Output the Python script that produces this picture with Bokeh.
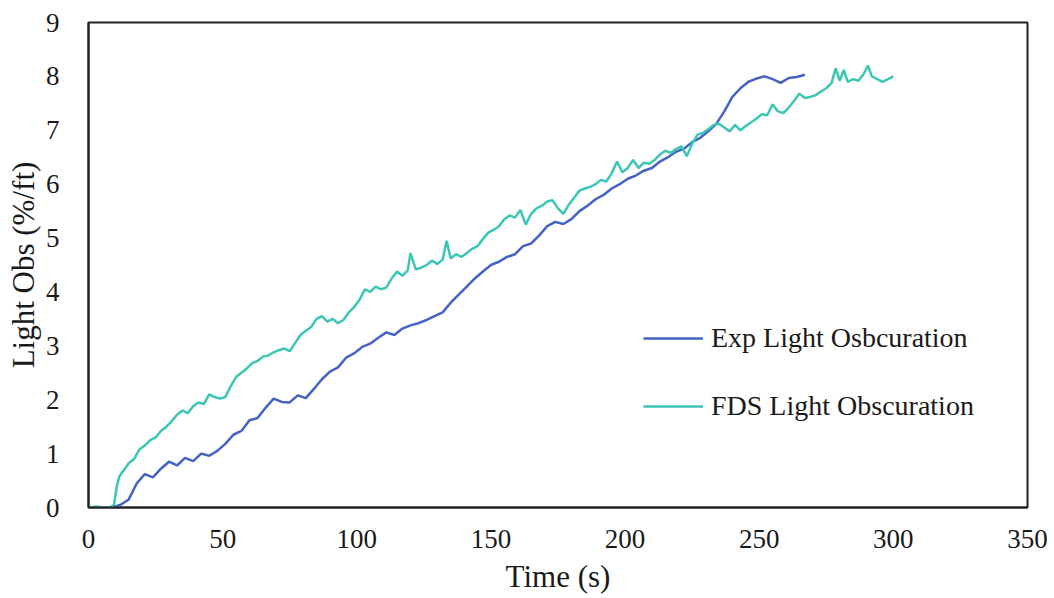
from bokeh.plotting import figure
from bokeh.models import Range1d, FixedTicker, Legend, LegendItem
from bokeh.embed import file_html
from bokeh.resources import INLINE

# ---- data ----
exp_t = [0, 3, 6, 9, 12, 15, 18, 21, 24, 27, 30, 33, 36, 39, 42, 45, 48, 51, 54, 57,
         60, 63, 66, 69, 72, 75, 78, 81, 84, 87, 90, 93, 96, 99, 102, 105, 108, 111, 114, 117,
         120, 123, 126, 129, 132, 135, 138, 141, 144, 147, 150, 153, 156, 159, 162, 165, 168, 171, 174, 177,
         180, 183, 186, 189, 192, 195, 198, 201, 204, 207, 210, 213, 216, 219, 222, 225, 228, 231, 234, 237,
         240, 243, 246, 249, 252, 255, 258, 261, 264, 267]
exp_v = [0.0, 0.0, 0.0, 0.0, 0.05, 0.15, 0.45, 0.62, 0.56, 0.72, 0.85, 0.78, 0.92, 0.86, 1.0, 0.96, 1.05, 1.18, 1.35, 1.42,
         1.62, 1.66, 1.85, 2.02, 1.96, 1.95, 2.08, 2.03, 2.2, 2.38, 2.52, 2.6, 2.78, 2.86, 2.98, 3.04, 3.15, 3.25, 3.2, 3.32,
         3.38, 3.42, 3.48, 3.55, 3.62, 3.8, 3.95, 4.1, 4.25, 4.38, 4.5, 4.56, 4.65, 4.7, 4.85, 4.9, 5.05, 5.22, 5.3, 5.26,
         5.35, 5.5, 5.6, 5.72, 5.8, 5.92, 6.0, 6.1, 6.16, 6.25, 6.3, 6.42, 6.5, 6.6, 6.66, 6.78, 6.86, 6.98, 7.12, 7.35,
         7.62, 7.78, 7.9, 7.96, 8.0, 7.95, 7.88, 7.97, 7.99, 8.03]

fds_t = [0, 3, 6, 8, 9.5, 10.5, 11.5, 13, 15, 17, 19, 21, 23, 25, 27, 29, 31, 33, 35, 37,
         39, 41, 43, 45, 47, 49, 51, 53, 55, 57, 59, 61, 63, 65, 67, 69, 71, 73, 75, 77,
         79, 81, 83, 85, 87, 89, 91, 93, 95, 97, 99, 101, 103, 105, 107, 109, 111, 113, 115, 117,
         119, 120, 122, 124, 126, 128, 130, 132, 133.5, 135, 137, 139, 141, 143, 145, 147, 149, 151, 153, 155,
         157, 159, 161, 163, 165, 167, 169, 171, 173, 175, 177, 179, 181, 183, 185, 187, 189, 191, 193, 195,
         197, 199, 201, 203, 205, 207, 209, 211, 213, 215, 217, 219, 221, 223, 225, 227, 229, 231, 233, 235,
         237, 239, 241, 243, 245, 247, 249, 251, 253, 255, 257, 259, 261, 263, 265, 267, 269, 271, 273, 275,
         277, 278.5, 280, 281.5, 283, 285, 287, 289, 290.5, 292, 294, 296, 298, 300]
fds_v = [0.0, 0.02, 0.0, 0.0, 0.05, 0.38, 0.58, 0.68, 0.82, 0.9, 1.08, 1.15, 1.25, 1.3, 1.42, 1.5, 1.6, 1.72, 1.8, 1.75,
         1.88, 1.95, 1.92, 2.1, 2.05, 2.02, 2.05, 2.25, 2.42, 2.5, 2.58, 2.68, 2.72, 2.8, 2.82, 2.88, 2.92, 2.95, 2.9, 3.05,
         3.2, 3.28, 3.35, 3.5, 3.55, 3.45, 3.5, 3.42, 3.48, 3.62, 3.72, 3.85, 4.05, 4.0, 4.1, 4.05, 4.08, 4.25, 4.38, 4.3,
         4.4, 4.72, 4.42, 4.45, 4.5, 4.58, 4.52, 4.6, 4.95, 4.62, 4.7, 4.65, 4.72, 4.8, 4.85, 4.98, 5.1, 5.15, 5.22, 5.35,
         5.42, 5.38, 5.52, 5.25, 5.45, 5.55, 5.6, 5.68, 5.7, 5.55, 5.45, 5.62, 5.75, 5.88, 5.92, 5.95, 6.0, 6.08, 6.05, 6.2,
         6.42, 6.22, 6.3, 6.45, 6.3, 6.4, 6.38, 6.45, 6.55, 6.62, 6.58, 6.65, 6.7, 6.52, 6.75, 6.92, 6.95, 7.02, 7.1, 7.12,
         7.05, 6.98, 7.1, 7.0, 7.08, 7.15, 7.22, 7.3, 7.28, 7.48, 7.35, 7.32, 7.42, 7.55, 7.68, 7.6, 7.62, 7.65, 7.72, 7.78,
         7.88, 8.15, 7.92, 8.12, 7.9, 7.95, 7.92, 8.05, 8.2, 8.0, 7.95, 7.9, 7.95, 8.0]

x_ticks = [0, 50, 100, 150, 200, 250, 300, 350]
y_ticks = [0, 1, 2, 3, 4, 5, 6, 7, 8, 9]

exp_label = "Exp Light Osbcuration"
fds_label = "FDS Light Obscuration"
x_title = "Time (s)"
y_title = "Light Obs (%/ft)"

EXP_COLOR = "#4562C4"
FDS_COLOR = "#3CC6B4"
FONT = "Liberation Serif"
TXT = "#1a1a1a"

p = figure(width=1054, height=598, output_backend="svg", toolbar_location=None,
           x_range=Range1d(0, 350), y_range=Range1d(0, 9),
           min_border_left=88, min_border_right=27, min_border_top=22, min_border_bottom=91)
p.background_fill_color = "white"
p.border_fill_color = "white"
p.outline_line_color = "#222222"
p.outline_line_width = 2
p.grid.visible = False

for ax in (p.xaxis[0], p.yaxis[0]):
    ax.major_tick_line_color = None
    ax.minor_tick_line_color = None
    ax.axis_line_color = "#222222"
    ax.axis_line_width = 2
    ax.major_label_text_font = FONT
    ax.major_label_text_font_size = "27px"
    ax.major_label_text_color = TXT
    ax.axis_label_text_font = FONT
    ax.axis_label_text_font_size = "31px"
    ax.axis_label_text_font_style = "normal"
    ax.axis_label_text_color = TXT

p.xaxis.ticker = FixedTicker(ticks=x_ticks)
p.yaxis.ticker = FixedTicker(ticks=y_ticks)
p.xaxis.axis_label = x_title
p.yaxis.axis_label = y_title
p.xaxis.major_label_standoff = 16
p.yaxis.major_label_standoff = 23
p.xaxis.axis_label_standoff = 8
p.yaxis.axis_label_standoff = 2

r_exp = p.line(exp_t, exp_v, line_color=EXP_COLOR, line_width=2.5)
r_fds = p.line(fds_t, fds_v, line_color=FDS_COLOR, line_width=2.5)

legend = Legend(items=[LegendItem(label=exp_label, renderers=[r_exp]),
                       LegendItem(label=fds_label, renderers=[r_fds])],
                location=(555, 85), orientation="vertical")
legend.glyph_width = 60
legend.glyph_height = 30
legend.label_height = 30
legend.label_standoff = 8
legend.spacing = 36
legend.padding = 0
legend.margin = 0
legend.border_line_color = None
legend.background_fill_alpha = 0
legend.label_text_font = FONT
legend.label_text_font_size = "28px"
legend.label_text_color = TXT
p.add_layout(legend, "center")

open("out.html", "w").write(file_html(p, INLINE))
